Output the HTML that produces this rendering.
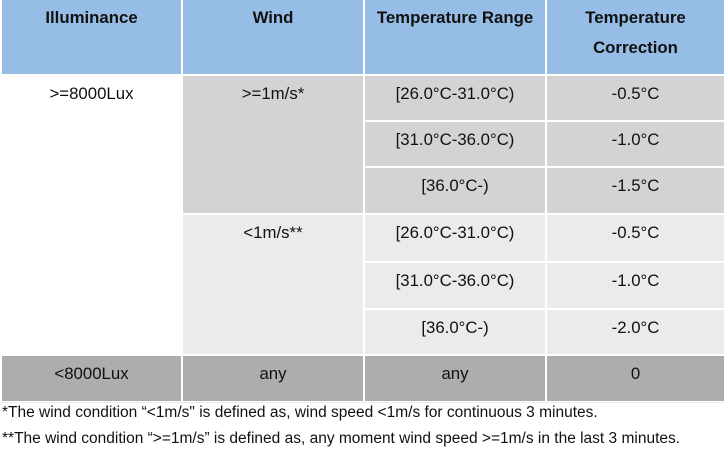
<!DOCTYPE html>
<html>
<head>
<meta charset="utf-8">
<style>
  html, body { margin:0; padding:0; background:#ffffff; }
  body { width:724px; height:451px; position:relative; overflow:hidden;
         font-family:"Liberation Sans", Arial, Helvetica, sans-serif; color:#111; }
  .c { position:absolute; box-sizing:border-box; text-align:center;
       font-size:16.8px; line-height:30px; padding-top:3.2px; white-space:nowrap; }
  .h { background:#95bde5; font-weight:bold; }
  .g1 { background:#d3d3d3; }
  .g2 { background:#ebebeb; }
  .g3 { background:#adadad; }
  .w { background:#ffffff; }
  .fn { position:absolute; left:2px; font-size:15.5px; line-height:26px; white-space:nowrap; color:#111; }
</style>
</head>
<body>
  <!-- header -->
  <div class="c h" style="left:2px; top:0; width:179px; height:74px;">Illuminance</div>
  <div class="c h" style="left:183px; top:0; width:180px; height:74px;">Wind</div>
  <div class="c h" style="left:365px; top:0; width:180px; height:74px;">Temperature Range</div>
  <div class="c h" style="left:547px; top:0; width:177px; height:74px;">Temperature<br>Correction</div>

  <!-- illuminance merged -->
  <div class="c w" style="left:2px; top:76px; width:179px; height:278px;">&gt;=8000Lux</div>

  <!-- wind merged -->
  <div class="c g1" style="left:183px; top:76px; width:180px; height:137px;">&gt;=1m/s*</div>
  <div class="c g2" style="left:183px; top:215px; width:180px; height:139px;">&lt;1m/s**</div>

  <!-- group 1 -->
  <div class="c g1" style="left:365px; top:76px; width:180px; height:44px;">[26.0°C-31.0°C)</div>
  <div class="c g1" style="left:547px; top:76px; width:177px; height:44px;">-0.5°C</div>
  <div class="c g1" style="left:365px; top:122px; width:180px; height:44px;">[31.0°C-36.0°C)</div>
  <div class="c g1" style="left:547px; top:122px; width:177px; height:44px;">-1.0°C</div>
  <div class="c g1" style="left:365px; top:168px; width:180px; height:45px;">[36.0°C-)</div>
  <div class="c g1" style="left:547px; top:168px; width:177px; height:45px;">-1.5°C</div>

  <!-- group 2 -->
  <div class="c g2" style="left:365px; top:215px; width:180px; height:46px;">[26.0°C-31.0°C)</div>
  <div class="c g2" style="left:547px; top:215px; width:177px; height:46px;">-0.5°C</div>
  <div class="c g2" style="left:365px; top:263px; width:180px; height:45px;">[31.0°C-36.0°C)</div>
  <div class="c g2" style="left:547px; top:263px; width:177px; height:45px;">-1.0°C</div>
  <div class="c g2" style="left:365px; top:310px; width:180px; height:44px;">[36.0°C-)</div>
  <div class="c g2" style="left:547px; top:310px; width:177px; height:44px;">-2.0°C</div>

  <!-- bottom row -->
  <div class="c g3" style="left:2px; top:356px; width:179px; height:45px;">&lt;8000Lux</div>
  <div class="c g3" style="left:183px; top:356px; width:180px; height:45px;">any</div>
  <div class="c g3" style="left:365px; top:356px; width:180px; height:45px;">any</div>
  <div class="c g3" style="left:547px; top:356px; width:177px; height:45px;">0</div>
  <div style="position:absolute; left:2px; top:402px; width:722px; height:1px; background:#ececec;"></div>

  <!-- footnotes -->
  <div class="fn" style="top:399.5px;">*The wind condition “&lt;1m/s" is defined as, wind speed &lt;1m/s for continuous 3 minutes.</div>
  <div class="fn" style="top:425.5px;">**The wind condition “&gt;=1m/s” is defined as, any moment wind speed &gt;=1m/s in the last 3 minutes.</div>
</body>
</html>
